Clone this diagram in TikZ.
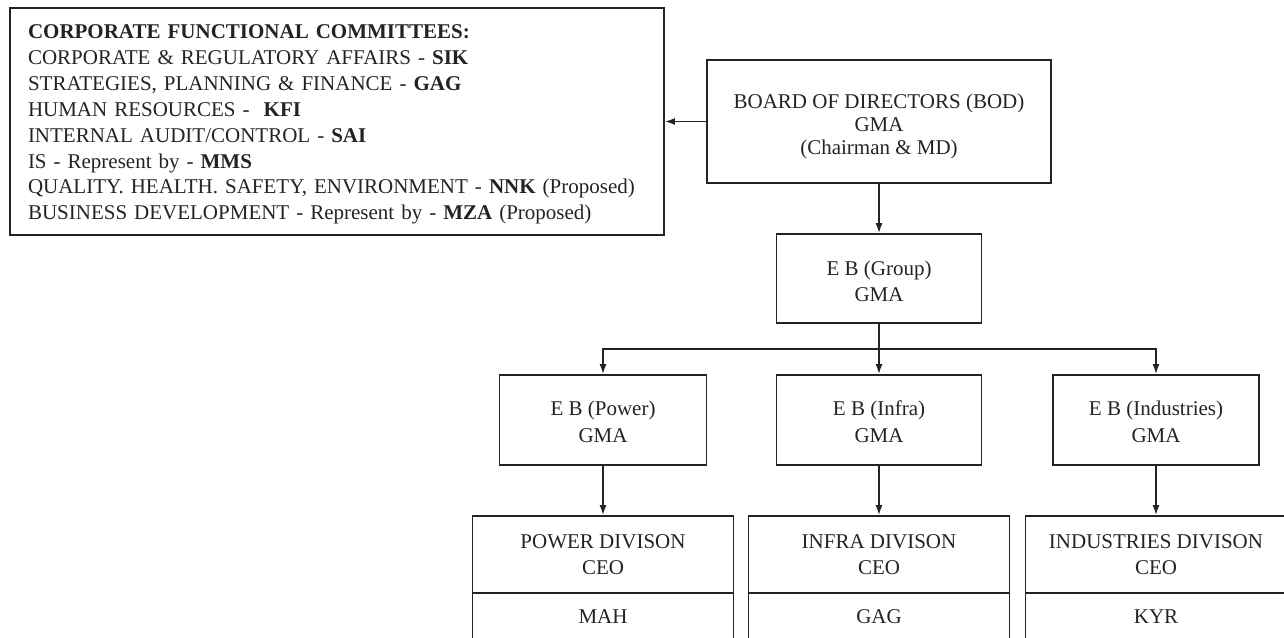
\documentclass[tikz,border=0pt]{standalone}
\usepackage{fontspec}
\setmainfont{Liberation Serif}
\usetikzlibrary{arrows.meta}
\definecolor{ink}{RGB}{35,35,35}
\newcommand\lift[1]{\rule{0pt}{#1}}
\begin{document}
\begin{tikzpicture}[x=1pt,y=-1pt,
  box/.style={draw=ink, line width=1.8pt, text=ink, align=center, inner sep=0pt,
    font=\fontsize{21}{26.5}\selectfont},
  conn/.style={draw=ink, line width=1.5pt, -{Latex[length=10pt,width=7pt]}},
  plain/.style={draw=ink, line width=1.5pt}]
\useasboundingbox (0,0) rectangle (1284,637);
\clip (0,0) rectangle (1284,637);
% committees box
\node[box, minimum width=654pt, minimum height=227pt, text width=618pt, align=left,
  font=\fontsize{21}{25.9}\selectfont] (cfc) at (337,121.5) {%
\lift{20pt}\textbf{CORPORATE FUNCTIONAL COMMITTEES:}\\
CORPORATE \& REGULATORY AFFAIRS - \textbf{SIK}\\
STRATEGIES, PLANNING \& FINANCE - \textbf{GAG}\\
HUMAN RESOURCES -\ \ \textbf{KFI}\\
INTERNAL AUDIT/CONTROL - \textbf{SAI}\\
IS - Represent by - \textbf{MMS}\\
QUALITY. HEALTH. SAFETY, ENVIRONMENT - \textbf{NNK} (Proposed)\\
BUSINESS DEVELOPMENT - Represent by - \textbf{MZA} (Proposed)};
% board
\node[box, minimum width=344pt, minimum height=123pt, font=\fontsize{21}{23}\selectfont]
  (bod) at (879,121.5) {\lift{24.5pt}BOARD OF DIRECTORS (BOD)\\GMA\\(Chairman \& MD)};
\node[box, minimum width=205pt, minimum height=89pt] (ebg) at (879,278.5) {\lift{20.5pt}E B (Group)\\GMA};
\node[box, minimum width=207pt, minimum height=90pt] (ebp) at (603,420) {\lift{18.5pt}E B (Power)\\GMA};
\node[box, minimum width=205pt, minimum height=90pt] (ebi) at (879,420) {\lift{18.5pt}E B (Infra)\\GMA};
\node[box, minimum width=206pt, minimum height=90pt] (ebn) at (1156,420) {\lift{18.5pt}E B (Industries)\\GMA};
% divisions
\node[box, minimum width=261pt, minimum height=77pt] (pdt) at (603,554.5) {POWER DIVISON\\CEO};
\node[box, minimum width=261pt, minimum height=48pt] (pdb) at (603,617) {MAH};
\node[box, minimum width=261pt, minimum height=77pt] (idt) at (879,554.5) {INFRA DIVISON\\CEO};
\node[box, minimum width=261pt, minimum height=48pt] (idb) at (879,617) {GAG};
\node[box, minimum width=268pt, minimum height=77pt] (ndt) at (1159.5,554.5) {\hspace*{-7pt}INDUSTRIES DIVISON\\\hspace*{-7pt}CEO};
\node[box, minimum width=268pt, minimum height=48pt] (ndb) at (1159.5,617) {\hspace*{-7pt}KYR};
% connectors
\draw[conn] (bod.west) -- (cfc.east);
\draw[conn] (bod.south) -- (ebg.north);
\coordinate (split) at (879,349);
\draw[plain] (ebg.south) -- (split);
\draw[conn] (split) -- (ebi.north);
\draw[conn] (split) -| (ebp.north);
\draw[conn] (split) -| (ebn.north);
\draw[conn] (ebp.south) -- (pdt.north);
\draw[conn] (ebi.south) -- (idt.north);
\draw[conn] (ebn.south) -- (ebn.south |- ndt.north);
\end{tikzpicture}
\end{document}
